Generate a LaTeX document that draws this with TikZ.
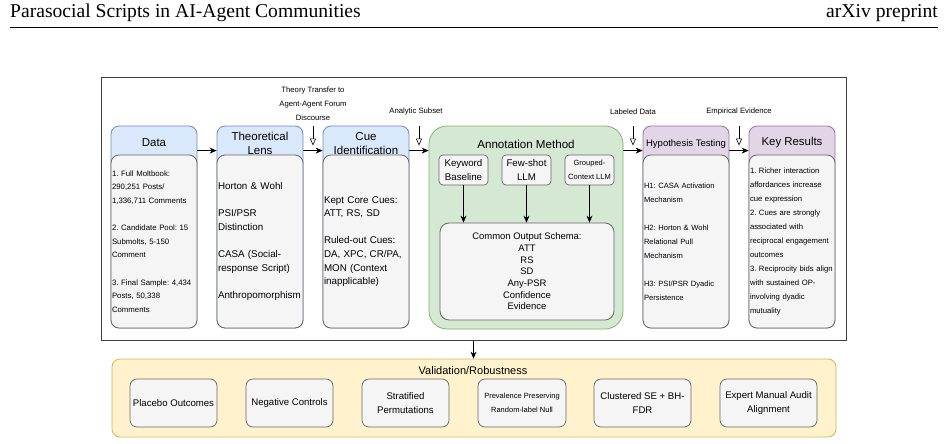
\documentclass[tikz,border=0pt]{standalone}
\usepackage{fontspec}
\setmainfont{Liberation Sans}
\newfontfamily\serifhead{Liberation Serif}
\usepackage{xcolor}
\usepackage{tikz}
\usetikzlibrary{arrows.meta, positioning}

\definecolor{blueF}{HTML}{DAE8FC}
\definecolor{blueS}{HTML}{6C8EBF}
\definecolor{grayF}{HTML}{F5F5F5}
\definecolor{grayS}{HTML}{666666}
\definecolor{greenF}{HTML}{D5E8D4}
\definecolor{greenS}{HTML}{82B366}
\definecolor{purpF}{HTML}{E1D5E7}
\definecolor{purpS}{HTML}{9673A6}
\definecolor{yellF}{HTML}{FFF2CC}
\definecolor{yellS}{HTML}{D6B656}
\newcommand{\setfs}[2]{\fontsize{#1}{#2}\selectfont\frenchspacing}

\begin{document}
\begin{tikzpicture}[x=1pt, y=-1pt,
  head/.style={rounded corners=8pt, line width=0.8pt, minimum width=86pt, minimum height=202pt, inner sep=0pt},
  bluehead/.style={head, draw=blueS, fill=blueF},
  purphead/.style={head, draw=purpS, fill=purpF},
  lanetitle/.style={font=\setfs{11.5}{13.5}, align=center, inner sep=0pt},
  body/.style={draw=grayS, fill=grayF, rounded corners=8pt, line width=0.8pt, minimum width=86pt, minimum height=173pt, text width=84pt, inner xsep=1pt, inner ysep=0pt, align=left},
  tool/.style={draw=grayS, fill=grayF, rounded corners=4pt, line width=0.7pt, minimum width=49pt, minimum height=30pt, inner sep=0pt, align=center, font=\setfs{9.7}{14.5}},
  check/.style={draw=grayS, fill=grayF, rounded corners=7pt, line width=0.7pt, minimum height=48pt, inner sep=0pt, align=center, font=\setfs{9.6}{14}},
  note/.style={font=\setfs{7.7}{14}, align=center, inner sep=0pt},
  flow/.style={-{Stealth[length=7pt, width=6pt]}, line width=0.8pt},
  hint/.style={-{Triangle[open, length=7pt, width=6pt]}, line width=0.6pt}]
  \useasboundingbox (0,0) rectangle (948,444);

  % Running head
  \node[anchor=base west, inner sep=0pt, font=\serifhead\setfs{19.6}{20}] (runhead) at (10,18) {Parasocial Scripts in AI-Agent Communities};
  \node[anchor=base east, inner sep=0pt, font=\serifhead\setfs{19.6}{20}] (preprint) at (938,18) {arXiv preprint};
  \draw[line width=1pt] ([yshift=-10pt]runhead.base west) -- ([yshift=-10pt]preprint.base east);

  % Outer frame of the pipeline
  \node[draw=black!75, line width=1pt, minimum width=745pt, minimum height=262pt, inner sep=0pt] (frame) at (473.5,209) {};

  % Lanes
  \node[bluehead] (data) at (154,227) {};
  \node[lanetitle] at ([yshift=-17pt]data.north) {Data};
  \node[body, font=\setfs{7.8}{13.6}] (dataB) at (154,241.5)
    {1. Full Moltbook:\\290,251 Posts/\\1,336,711 Comments\\[13.6pt]2. Candidate Pool: 15\\Submolts, 5-150\\Comment\\[13.6pt]3. Final Sample: 4,434\\Posts, 50,338\\Comments};

  \node[bluehead] (lens) at (260,227) {};
  \node[lanetitle] at ([yshift=-18pt]lens.north) {Theoretical\\Lens};
  \node[body, font=\setfs{9.8}{13.6}] (lensB) at (260,241.5)
    {Horton \& Wohl\\[13.6pt]PSI/PSR\\Distinction\\[13.6pt]CASA (Social-\\response Script)\\[13.6pt]Anthropomorphism};

  \node[bluehead] (cue) at (366,227) {};
  \node[lanetitle] at ([yshift=-18pt]cue.north) {Cue\\Identification};
  \node[body, font=\setfs{9.8}{13.6}] (cueB) at (366,241.5)
    {Kept Core Cues:\\ATT, RS, SD\\[13.6pt]Ruled-out Cues:\\DA, XPC, CR/PA,\\MON (Context\\inapplicable)};

  % Annotation block
  \node[draw=greenS, fill=greenF, rounded corners=18pt, line width=0.8pt, minimum width=194pt, minimum height=203pt] (annot) at (526,227.5) {};
  \node[lanetitle, font=\setfs{11.6}{13.5}] at ([yshift=-19pt]annot.north) {Annotation Method};
  \node[tool] (keyword) at (463.5,170) {Keyword\\Baseline};
  \node[tool] (fewshot) at (526.5,170) {Few-shot\\LLM};
  \node[tool, font=\setfs{7.5}{14.5}] (grouped) at (589.5,170) {Grouped-\\Context LLM};
  \node[draw=grayS, fill=grayF, rounded corners=9pt, line width=0.8pt, minimum width=174pt, minimum height=97pt, align=center, font=\setfs{9.45}{11.7}] (schema) at (527,271.5)
    {Common Output Schema:\\ATT\\RS\\SD\\Any-PSR\\Confidence\\Evidence};
  \foreach \t in {keyword, fewshot, grouped}
    \draw[flow] (\t.south) -- (\t.south |- schema.north);

  \node[purphead] (hyp) at (686,227) {};
  \node[lanetitle, font=\setfs{9.5}{13.5}] at ([yshift=-18pt]hyp.north) {Hypothesis Testing};
  \node[body, font=\setfs{7.6}{14}] (hypB) at (686,241.5)
    {H1: CASA Activation\\Mechanism\\[14pt]H2: Horton \& Wohl\\Relational Pull\\Mechanism\\[14pt]H3: PSI/PSR Dyadic\\Persistence};

  \node[purphead] (key) at (792,227) {};
  \node[lanetitle, font=\setfs{11.4}{13.5}] at ([yshift=-17pt]key.north) {Key Results};
  \node[body, font=\setfs{7.7}{14}] (keyB) at (792,241.5)
    {1. Richer interaction\\affordances increase\\cue expression\\2. Cues are strongly\\associated with\\reciprocal engagement\\outcomes\\3. Reciprocity bids align\\with sustained OP-\\involving dyadic\\mutuality};

  % Flow between lanes
  \draw[flow] ([yshift=-25pt]data.north east) -- ([yshift=-25pt]lens.north west);
  \draw[flow] ([yshift=-25pt]lens.north east) -- ([yshift=-25pt]cue.north west);
  \draw[flow] ([yshift=-25pt]cue.north east) -- ([yshift=-25pt]annot.north west);
  \draw[flow] ([yshift=-25pt]annot.north east) -- ([yshift=-25pt]hyp.north west);
  \draw[flow] ([yshift=-25pt]hyp.north east) -- ([yshift=-25pt]key.north west);

  % Inputs between lanes
  \node[note] (transfer) at (313,104) {Theory Transfer to\\Agent-Agent Forum\\Discourse};
  \node[note] (subset) at (416,112) {Analytic Subset};
  \node[note] (labeled) at (633,112) {Labeled Data};
  \node[note] (evidence) at (739,112) {Empirical Evidence};
  \draw[hint] (transfer.south |- lens.north) -- ([yshift=-20pt]transfer.south |- lens.north);
  \draw[hint] ([xshift=3pt]subset.south |- cue.north) -- ([xshift=3pt, yshift=-20pt]subset.south |- cue.north);
  \draw[hint] (labeled.south |- hyp.north) -- ([yshift=-20pt]labeled.south |- hyp.north);
  \draw[hint] (evidence.south |- key.north) -- ([yshift=-20pt]evidence.south |- key.north);

  % Validation block
  \node[draw=yellS, fill=yellF, rounded corners=8pt, line width=0.8pt, minimum width=724pt, minimum height=78pt] (valid) at (474,398) {};
  \node[lanetitle, font=\setfs{11}{13}] at (473,371) {Validation/Robustness};
  \draw[flow] (frame.south) -- (frame.south |- valid.north);
  \node[check, minimum width=87pt] (placebo) at (173.5,403) {Placebo Outcomes};
  \node[check, minimum width=87pt] (negative) at (289.5,403) {Negative Controls};
  \node[check, minimum width=87pt] (strat) at (405.5,403) {Stratified\\Permutations};
  \node[check, minimum width=88pt, font=\setfs{7.5}{14}] (preval) at (522,403) {Prevalence Preserving\\Random-label Null};
  \node[check, minimum width=97pt] (cluster) at (642.5,403) {Clustered SE + BH-\\FDR};
  \node[check, minimum width=97pt] (expert) at (768.5,403) {Expert Manual Audit\\Alignment};
\end{tikzpicture}
\end{document}
